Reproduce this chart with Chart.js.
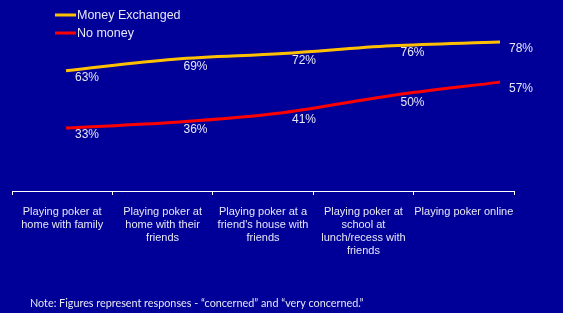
<!DOCTYPE html>
<html>
<head>
<meta charset="utf-8">
<script src="https://cdn.jsdelivr.net/npm/chart.js@4/dist/chart.umd.min.js"></script>
<style>
  html, body { margin: 0; padding: 0; background: #000099; }
  #wrap { width: 563px; height: 313px; position: relative; }
</style>
</head>
<body>
<div id="wrap"><canvas id="c" width="563" height="313"></canvas></div>
<script>
// data
const categories = [
  ['Playing poker at', 'home with family'],
  ['Playing poker at', 'home with their', 'friends'],
  ['Playing poker at a', "friend's house with", 'friends'],
  ['Playing poker at', 'school at', 'lunch/recess with', 'friends'],
  ['Playing poker online']
]
const seriesNames = ['Money Exchanged', 'No money']
const moneyExchanged = [63, 69, 72, 76, 78]
const noMoney = [33, 36, 41, 50, 57]
const note = 'Note: Figures represent responses - \u201cconcerned\u201d and \u201cvery concerned.\u201d'

const txt = '#e6e6f5'
const colors = ['#ffc000', '#ff0000']

const bg = {
  id: 'bg',
  beforeDraw(chart){
    const ctx = chart.ctx
    ctx.save()
    ctx.fillStyle = '#000099'
    ctx.fillRect(0, 0, chart.width, chart.height)
    ctx.restore()
  }
}

const extras = {
  id: 'extras',
  afterDatasetsDraw(chart){
    const ctx = chart.ctx
    ctx.save()
    ctx.font = '12px "Liberation Sans", Arial, sans-serif'
    ctx.fillStyle = txt
    ctx.textAlign = 'center'
    ctx.textBaseline = 'middle'
    chart.data.datasets.forEach((ds, i) => {
      chart.getDatasetMeta(i).data.forEach((pt, j) => {
        ctx.fillText(ds.data[j].y + '%', pt.x + 21, pt.y + 7)
      })
    })
    // legend
    ctx.font = '12.5px "Liberation Sans", Arial, sans-serif'
    ctx.textAlign = 'left'
    seriesNames.forEach((n, i) => {
      const y = 15 + i * 18
      ctx.strokeStyle = colors[i]
      ctx.lineWidth = 3
      ctx.beginPath()
      ctx.moveTo(55, y)
      ctx.lineTo(76, y)
      ctx.stroke()
      ctx.fillText(n, 77, y + 1)
    })
    // note
    ctx.font = '10.8px Lato, "Open Sans", sans-serif'
    ctx.fillText(note, 30, 304)
    ctx.restore()
  }
}

new Chart(document.getElementById('c'), {
  type: 'line',
  data: {
    labels: categories,
    datasets: [
      {
        label: seriesNames[0],
        data: moneyExchanged.map((v, i) => ({x: i, y: v})),
        borderColor: colors[0],
        borderWidth: 3,
        pointRadius: 0,
        tension: 0.35,
        xAxisID: 'xl'
      },
      {
        label: seriesNames[1],
        data: noMoney.map((v, i) => ({x: i, y: v})),
        borderColor: colors[1],
        borderWidth: 3,
        pointRadius: 0,
        tension: 0.35,
        xAxisID: 'xl'
      }
    ]
  },
  options: {
    responsive: false,
    animation: false,
    layout: { padding: { left: 12, right: 49, top: 0, bottom: 52 } },
    plugins: { legend: { display: false }, tooltip: { enabled: false } },
    scales: {
      x: {
        type: 'category',
        offset: true,
        grid: { display: true, offset: true, drawOnChartArea: false, color: '#ffffff', tickLength: 4, lineWidth: 1 },
        border: { display: true, color: '#ffffff', width: 1 },
        ticks: {
          color: txt,
          font: { family: '"Liberation Sans", Arial, sans-serif', size: 11, lineHeight: 1.2 },
          maxRotation: 0,
          autoSkip: false,
          padding: 10
        },
        afterFit(scale){ scale.height = 70 }
      },
      xl: {
        type: 'linear',
        display: false,
        min: -0.498,
        max: 4.129
      },
      y: {
        display: false,
        min: 0,
        max: 100
      }
    }
  },
  plugins: [bg, extras]
})
</script>
</body>
</html>
